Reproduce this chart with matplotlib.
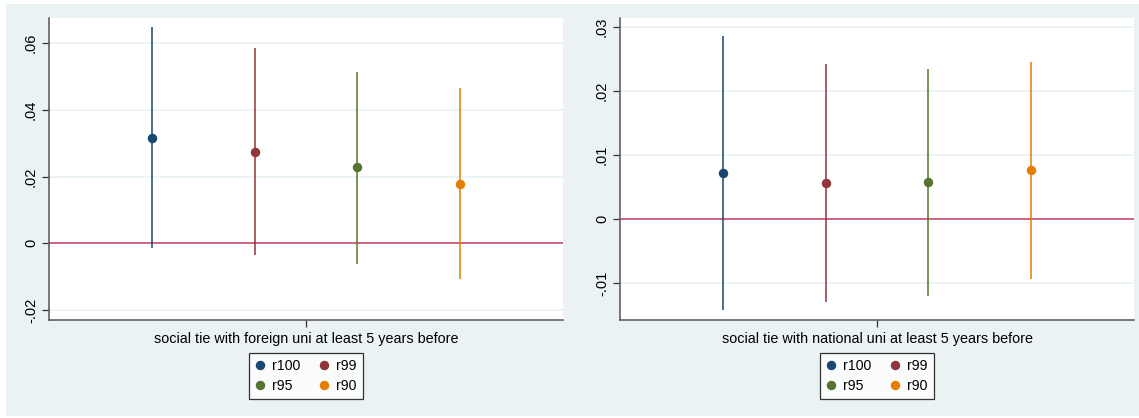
import matplotlib
matplotlib.use("Agg")
import matplotlib.pyplot as plt
from matplotlib.patches import Rectangle
from matplotlib.lines import Line2D

plt.rcParams['font.family'] = ['Liberation Sans', 'DejaVu Sans']

series = ["r100", "r99", "r95", "r90"]
colors = ["#1a476f", "#90353b", "#55752f", "#e37e00"]

# left panel: foreign uni
left_label = "social tie with foreign uni at least 5 years before"
left_est = [0.0316, 0.0274, 0.0227, 0.0179]
left_lo = [-0.0015, -0.0034, -0.0061, -0.0107]
left_hi = [0.0648, 0.0584, 0.0513, 0.0465]
left_ticks = [-0.02, 0, 0.02, 0.04, 0.06]
left_ticklabels = ["-.02", "0", ".02", ".04", ".06"]

# right panel: national uni
right_label = "social tie with national uni at least 5 years before"
right_est = [0.0072, 0.0056, 0.0057, 0.0077]
right_lo = [-0.0142, -0.0130, -0.0120, -0.0094]
right_hi = [0.0286, 0.0242, 0.0234, 0.0246]
right_ticks = [-0.01, 0, 0.01, 0.02, 0.03]
right_ticklabels = ["-.01", "0", ".01", ".02", ".03"]

W, H = 1139, 418
fig = plt.figure(figsize=(W / 100, H / 100), dpi=100)
fig.patch.set_facecolor("white")
bg = "#eaf2f3"
fig.patches.append(Rectangle((6 / W, 2 / H), 1 - 6 / W, (414 - 2) / H,
                             transform=fig.transFigure, facecolor=bg,
                             edgecolor="none", zorder=-10))

def panel(left_px, est, lo, hi, ticks, ticklabels, ylim, xlabel, leg_center_px):
    ax = fig.add_axes([left_px / W, (H - 320) / H, 514 / W, 302 / H])
    ax.set_facecolor("white")
    xs = [1, 2, 3, 4]
    for x, e, l, h, c in zip(xs, est, lo, hi, colors):
        ax.vlines(x, l, h, color=c, lw=1.1, zorder=3)
        ax.plot([x], [e], "o", color=c, ms=5.8, zorder=4)
    ax.axhline(0, color="#cc5a78", lw=1.3, zorder=2)
    ax.set_xlim(0, 5)
    ax.set_ylim(*ylim)
    ax.set_yticks(ticks)
    ax.set_yticklabels(ticklabels, rotation=90, va="center", fontsize=10.5)
    ax.grid(axis="y", color="#eaf2f3", lw=1.2, zorder=1)
    ax.set_axisbelow(True)
    ax.set_xticks([2.5])
    ax.set_xticklabels([xlabel], fontsize=10.4)
    ax.tick_params(axis="both", direction="out", length=5, width=0.9,
                   color="#333333", pad=3)
    ax.tick_params(axis="x", pad=4)
    for s in ["top", "right"]:
        ax.spines[s].set_visible(False)
    for s in ["left", "bottom"]:
        ax.spines[s].set_color("#555555")
        ax.spines[s].set_linewidth(1.1)
    handles = [Line2D([], [], ls="none", marker="o", color=c, ms=5.8) for c in colors]
    # row-wise order: r100 r99 / r95 r90
    order = [0, 2, 1, 3]
    leg = fig.legend([handles[i] for i in order], [series[i] for i in order],
                     ncol=2, loc="center",
                     bbox_to_anchor=(leg_center_px / W, (H - 376) / H),
                     frameon=True, fancybox=False, edgecolor="black",
                     fontsize=10.2, handlelength=0.7, handletextpad=0.5,
                     columnspacing=1.3, labelspacing=0.4, borderpad=0.45,
                     borderaxespad=0)
    leg.get_frame().set_linewidth(0.9)
    leg.get_frame().set_facecolor("white")
    return ax

panel(49, left_est, left_lo, left_hi, left_ticks, left_ticklabels,
      (-0.0230, 0.0675), left_label, 306)
panel(620, right_est, right_lo, right_hi, right_ticks, right_ticklabels,
      (-0.0158, 0.0314), right_label, 877)

fig.savefig("out.png", dpi=100, facecolor=fig.get_facecolor())
